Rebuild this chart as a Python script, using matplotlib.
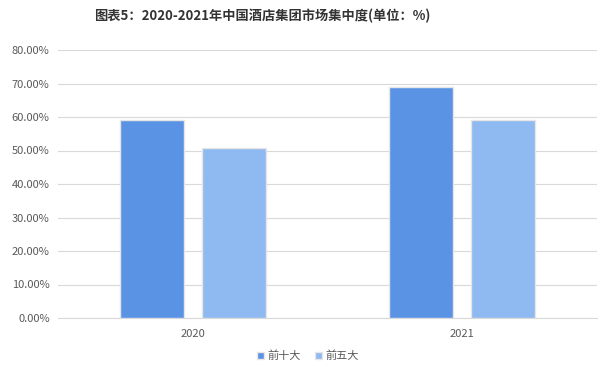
import matplotlib
matplotlib.use("Agg")
import matplotlib.pyplot as plt
import numpy as np
from matplotlib.ticker import FuncFormatter

plt.rcParams['font.family'] = ['Noto Sans CJK SC', 'DejaVu Sans']

years = ["2020", "2021"]
series_names = ["前十大", "前五大"]
top10 = [59.2, 69.1]
top5 = [50.6, 59.2]
colors = ["#5A93E4", "#8EB9F1"]

fig = plt.figure(figsize=(6.0, 3.73), dpi=100)
ax = fig.add_axes([58/600, 1-318/373, (597-58)/600, (318-50)/373])

x = np.arange(len(years))
w = 0.237
gap = 0.067
off = (w + gap) / 2
ax.bar(x - off, top10, w, color=colors[0], edgecolor="#E6E6E6", linewidth=1.0, label=series_names[0], zorder=3)
ax.bar(x + off, top5, w, color=colors[1], edgecolor="#E6E6E6", linewidth=1.0, label=series_names[1], zorder=3)

ax.set_xlim(-0.5, 1.5)
ax.set_ylim(0, 80)
ax.set_yticks(np.arange(0, 81, 10))
ax.yaxis.set_major_formatter(FuncFormatter(lambda v, p: f"{v:.2f}%"))
ax.set_xticks(x)
ax.set_xticklabels(years)
ax.grid(axis="y", color="#D9D9D9", linewidth=0.8, zorder=0)
for s in ["top", "right", "left"]:
    ax.spines[s].set_visible(False)
ax.spines["bottom"].set_color("#D9D9D9")
ax.tick_params(axis="both", length=0, labelsize=8, colors="#595959")
ax.tick_params(axis="x", pad=8)
ax.tick_params(axis="y", pad=6)

fig.text(262/600, 1-16/373, "图表5：2020-2021年中国酒店集团市场集中度(单位：%)",
         ha="center", va="center", fontsize=9.5, fontweight="bold", color="#333333")

leg = fig.legend(loc="center", bbox_to_anchor=(308/600, 1-356/373), ncol=2, frameon=False,
                 fontsize=8, handlelength=0.6, handleheight=0.6, handletextpad=0.3,
                 columnspacing=1.3)
for t in leg.get_texts():
    t.set_color("#595959")

fig.savefig("out.png", dpi=100)
